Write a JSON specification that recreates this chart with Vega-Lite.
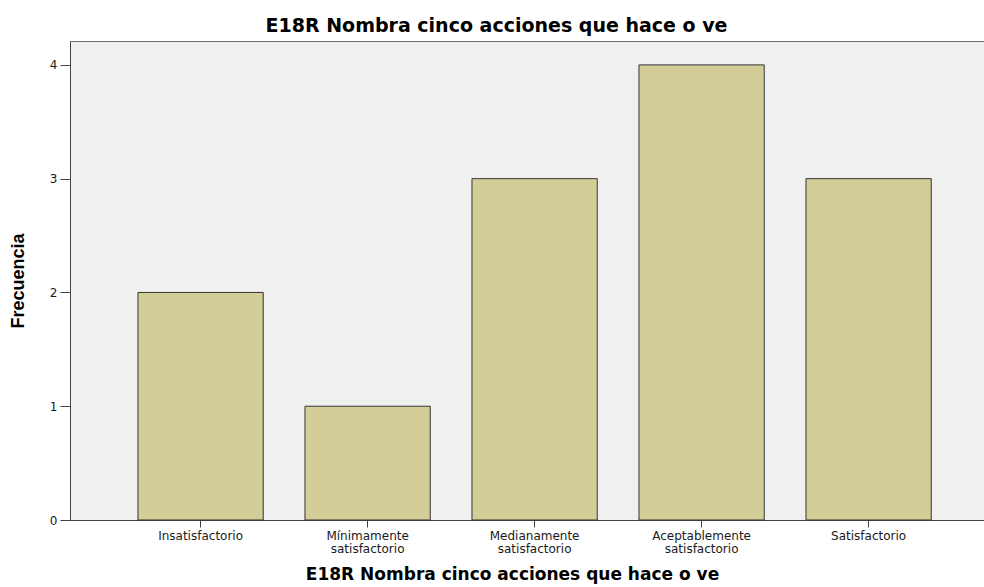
{
  "$schema": "https://vega.github.io/schema/vega-lite/v6.json",
  "autosize": {"type": "none"},
  "padding": {"left": 70, "top": 41, "right": 0, "bottom": 67},
  "width": 914,
  "height": 479,
  "background": "white",
  "title": {
    "text": "E18R Nombra cinco acciones que hace o ve",
    "font": "DejaVu Sans",
    "fontSize": 19,
    "fontWeight": "bold",
    "color": "#000000",
    "anchor": "middle",
    "frame": "bounds",
    "offset": 5
  },
  "data": {
    "values": [
      {"categoria": "Insatisfactorio", "frecuencia": 2},
      {"categoria": "Mínimamente satisfactorio", "frecuencia": 1},
      {"categoria": "Medianamente satisfactorio", "frecuencia": 3},
      {"categoria": "Aceptablemente satisfactorio", "frecuencia": 4},
      {"categoria": "Satisfactorio", "frecuencia": 3}
    ]
  },
  "mark": {"type": "bar", "fill": "#D3CE98", "stroke": "#333333", "strokeWidth": 1},
  "encoding": {
    "x": {
      "field": "categoria",
      "type": "nominal",
      "sort": null,
      "scale": {"paddingInner": 0.25, "paddingOuter": 0.3615, "align": 0.563},
      "axis": {
        "title": "E18R Nombra cinco acciones que hace o ve",
        "titleFont": "DejaVu Sans",
        "titleFontSize": 17,
        "titleFontWeight": "bold",
        "titleColor": "#000000",
        "titleX": 442,
        "titleY": 46,
        "titleAlign": "center",
        "titleBaseline": "top",
        "labelAngle": 0,
        "labelExpr": "split(datum.label, ' ')",
        "labelFont": "DejaVu Sans",
        "labelFontSize": 12,
        "labelLineHeight": 13,
        "labelColor": "#1a1a1a",
        "labelPadding": 3,
        "tickSize": 7,
        "tickColor": "#444444",
        "domainColor": "#444444",
        "grid": false
      }
    },
    "y": {
      "field": "frecuencia",
      "type": "quantitative",
      "scale": {"domain": [0, 4.21], "nice": false},
      "axis": {
        "values": [0, 1, 2, 3, 4],
        "title": "Frecuencia",
        "titleFont": "Liberation Sans",
        "titleFontSize": 18,
        "titleFontWeight": "bold",
        "titleColor": "#000000",
        "titleAngle": 270,
        "titleX": -52,
        "titleY": 239.5,
        "titleAlign": "center",
        "titleBaseline": "middle",
        "labelFont": "DejaVu Sans",
        "labelFontSize": 12,
        "labelColor": "#1a1a1a",
        "labelPadding": 3,
        "tickSize": 10,
        "tickColor": "#444444",
        "domainColor": "#444444",
        "grid": false
      }
    }
  },
  "config": {
    "view": {"fill": "#F0F0F0", "stroke": "#707070", "strokeWidth": 1}
  }
}
